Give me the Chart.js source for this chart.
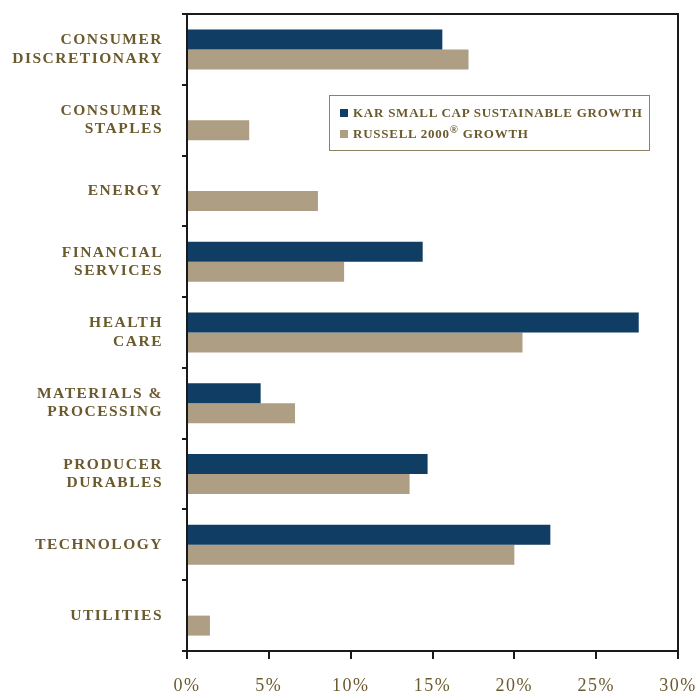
<!DOCTYPE html>
<html>
<head>
<meta charset="utf-8">
<script src="https://cdn.jsdelivr.net/npm/chart.js@4"></script>
<style>
  html, body { margin: 0; padding: 0; background: #fff; }
  #wrap { position: relative; width: 698px; height: 691px; }
  #legend {
    position: absolute; left: 329px; top: 95px; width: 319px; height: 54px;
    border: 1.5px solid #8f8262; box-sizing: content-box;
    font-family: "Liberation Serif", serif; font-weight: bold; font-size: 13px;
    letter-spacing: 0.75px; color: #6b5a2e;
  }
  #legend .item { position: absolute; left: 10px; display: flex; align-items: center; white-space: nowrap; }
  #legend .sw { width: 8px; height: 8px; margin-right: 5px; }
  #legend sup { font-size: 11px; vertical-align: 5px; line-height: 0; }
</style>
</head>
<body>
<div id="wrap">
  <canvas id="c" width="698" height="691"></canvas>
  <div id="legend"></div>
</div>
<script>
const categories = [
  ["CONSUMER", "DISCRETIONARY"],
  ["CONSUMER", "STAPLES"],
  "ENERGY",
  ["FINANCIAL", "SERVICES"],
  ["HEALTH", "CARE"],
  ["MATERIALS &", "PROCESSING"],
  ["PRODUCER", "DURABLES"],
  "TECHNOLOGY",
  "UTILITIES"
];
const seriesNames = ["KAR SMALL CAP SUSTAINABLE GROWTH", "RUSSELL 2000® GROWTH"];
const karValues = [15.6, 0, 0, 14.4, 27.6, 4.5, 14.7, 22.2, 0];
const russellValues = [17.2, 3.8, 8.0, 9.6, 20.5, 6.6, 13.6, 20.0, 1.4];
const xTicks = [0, 5, 10, 15, 20, 25, 30];
const seriesColors = ["#0f3d63", "#ae9e84"];

const textColor = "#6b5a2e";

const framePlugin = {
  id: 'frame',
  afterDraw(chart) {
    const a = chart.chartArea, ctx = chart.ctx;
    ctx.save();
    ctx.strokeStyle = "#1a1a1a";
    ctx.lineWidth = 2;
    ctx.beginPath();
    ctx.moveTo(a.left, a.top);
    ctx.lineTo(a.right, a.top);
    ctx.lineTo(a.right, a.bottom);
    ctx.stroke();
    ctx.restore();
  }
};
const spacingPlugin = {
  id: 'spacing',
  beforeUpdate(chart) { chart.ctx.letterSpacing = '1.5px'; },
  beforeDraw(chart) { chart.ctx.letterSpacing = '1.5px'; }
};

const chart = new Chart(document.getElementById('c'), {
  type: 'bar',
  data: {
    labels: categories,
    datasets: [
      { label: seriesNames[0], data: karValues, backgroundColor: seriesColors[0] },
      { label: seriesNames[1], data: russellValues, backgroundColor: seriesColors[1] }
    ]
  },
  options: {
    indexAxis: 'y',
    responsive: false,
    animation: false,
    devicePixelRatio: 1,
    datasets: { bar: { categoryPercentage: 0.565, barPercentage: 1.0 } },
    layout: { padding: { top: 14, right: 20, left: 0, bottom: 0 } },
    plugins: { legend: { display: false }, tooltip: { enabled: false } },
    scales: {
      x: {
        type: 'linear', min: 0, max: 30,
        afterBuildTicks(s) { s.ticks = xTicks.map(v => ({ value: v })); },
        afterFit(s) { s.height = 40; s.paddingLeft = 0; s.paddingRight = 0; },
        border: { display: true, color: '#1a1a1a', width: 2 },
        grid: { drawOnChartArea: false, drawTicks: true, tickLength: 8, color: '#1a1a1a', lineWidth: 2 },
        ticks: {
          callback: v => v + '%',
          color: textColor, padding: 16, maxRotation: 0,
          font: { family: "'Liberation Serif', serif", size: 18 }
        }
      },
      y: {
        offset: true,
        afterFit(s) { s.width = 187; s.paddingTop = 0; s.paddingBottom = 0; },
        border: { display: true, color: '#1a1a1a', width: 2 },
        grid: { offset: true, drawOnChartArea: false, drawTicks: true, tickLength: 5, color: '#1a1a1a', lineWidth: 2 },
        ticks: {
          color: textColor, padding: 19,
          font: { family: "'Liberation Serif', serif", size: 15.5, weight: 'bold', lineHeight: 1.18 }
        }
      }
    }
  },
  plugins: [spacingPlugin, framePlugin]
});

const legend = document.getElementById('legend');
chart.data.datasets.forEach((ds, i) => {
  const item = document.createElement('div');
  item.className = 'item';
  item.style.top = (i === 0 ? 9 : 30) + 'px';
  const sw = document.createElement('span');
  sw.className = 'sw';
  sw.style.background = ds.backgroundColor;
  const txt = document.createElement('span');
  txt.innerHTML = ds.label.replace('®', '<sup>®</sup>');
  item.appendChild(sw); item.appendChild(txt);
  legend.appendChild(item);
});
</script>
</body>
</html>
